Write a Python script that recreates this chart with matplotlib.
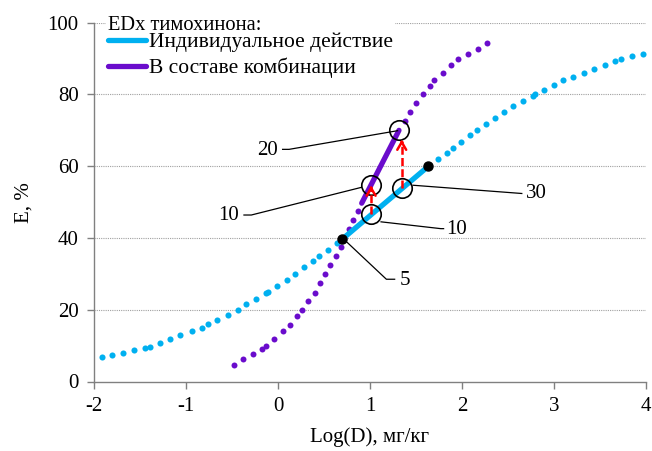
import matplotlib
matplotlib.use("Agg")
import matplotlib.pyplot as plt
from matplotlib.lines import Line2D

plt.rcParams['font.family'] = ['Liberation Serif', 'DejaVu Serif']
plt.rcParams['axes.unicode_minus'] = False

# ---------------- data ----------------
blue_x = [-1.91, -1.80, -1.68, -1.56, -1.45, -1.39, -1.28, -1.17, -1.06, -0.94, -0.83, -0.76,
          -0.66, -0.547, -0.44, -0.35, -0.24, -0.135, -0.105, -0.008, 0.093, 0.188, 0.28,
          0.38, 0.45, 0.545, 0.64,
          1.738, 1.832, 1.897, 1.99, 2.089, 2.16, 2.26, 2.36, 2.455, 2.555, 2.66, 2.77, 2.79,
          2.89, 3.00, 3.10, 3.21, 3.33, 3.44, 3.55, 3.66, 3.73, 3.85, 3.97]
blue_y = [6.7, 7.3, 8.0, 8.7, 9.4, 9.6, 10.8, 11.8, 12.9, 14.0, 15.0, 15.9,
          17.2, 18.6, 19.9, 21.6, 23.0, 24.6, 24.9, 26.6, 28.3, 29.9, 31.8,
          33.6, 35.0, 36.6, 38.5,
          61.9, 63.8, 65.0, 66.8, 68.7, 70.1, 71.8, 73.4, 75.0, 76.7, 78.1, 79.6, 80.0,
          81.2, 82.6, 83.9, 85.0, 86.1, 87.1, 88.2, 89.3, 90.0, 90.6, 91.3]

purple_x = [-0.48, -0.376, -0.27, -0.17, -0.13, -0.04, 0.05, 0.13, 0.205, 0.256, 0.33, 0.40,
            0.455, 0.513, 0.57, 0.625, 0.68, 0.72, 0.77, 0.82, 0.87,
            1.376, 1.438, 1.503, 1.576, 1.65, 1.70, 1.79, 1.88, 1.96, 2.06, 2.17, 2.27]
purple_y = [4.6, 6.4, 7.7, 9.1, 9.8, 11.9, 14.0, 15.8, 18.2, 19.9, 22.4, 24.8,
            27.5, 29.9, 32.5, 35.0, 37.6, 39.9, 42.4, 45.0, 47.6,
            72.6, 75.0, 77.5, 80.0, 82.4, 84.1, 86.1, 88.2, 90.0, 91.4, 92.8, 94.3]

# solid segments (ED range)
blue_seg_x = [0.70, 1.635]
blue_seg_y = [39.7, 60.0]
purple_seg_x = [0.91, 1.315]
purple_seg_y = [49.7, 70.0]

# black points (ED5, ED30 individual)
black_x = [0.70, 1.635]
black_y = [39.7, 60.0]

# open circles
circ_x = [1.318, 1.008, 1.015, 1.352]
circ_y = [70.0, 54.9, 46.7, 54.0]

# red arrows: (x, y_from, y_to)
arrow_x = [1.012, 1.345]
arrow_y0 = [46.7, 54.0]
arrow_y1 = [54.6, 67.4]

# annotation labels
ann_labels = ['20', '10', '10', '30', '5']
ann_text_x = [0.00, -0.42, 1.83, 2.70, 1.32]
ann_text_y = [64.4, 46.3, 42.3, 52.3, 28.2]
ann_ha = ['right', 'right', 'left', 'left', 'left']
ann_paths = [
    [(0.05, 64.7), (0.12, 64.7), (1.30, 69.9)],
    [(-0.37, 46.4), (-0.29, 46.4), (0.905, 54.1)],
    [(1.12, 44.5), (1.77, 42.6), (1.80, 42.6)],
    [(1.467, 54.7), (2.65, 52.4)],
    [(0.726, 39.4), (1.178, 28.5), (1.268, 28.5)],
]

legend_title = 'EDx тимохинона:'
legend_labels = ['Индивидуальное действие', 'В составе комбинации']
x_ticks = [-2, -1, 0, 1, 2, 3, 4]
y_ticks = [0, 20, 40, 60, 80, 100]

BLUE = '#00B0F0'
PURPLE = '#6A0CCC'

# ---------------- figure ----------------
fig = plt.figure(figsize=(6.52, 4.51), dpi=100)
ax = fig.add_axes([94/652, 1-381.5/451, (646-94)/652, (381.5-22.7)/451])

ax.set_xlim(-2, 4)
ax.set_ylim(0, 100)

for yv in y_ticks[1:]:
    ax.axhline(yv, color='#a0a0a0', lw=0.8, ls=(0, (1, 1)), zorder=0)

ax.plot(blue_x, blue_y, 'o', color=BLUE, ms=4.4, mec='none', zorder=2)
ax.plot(purple_x, purple_y, 'o', color=PURPLE, ms=4.3, mec='none', zorder=2)

ax.plot(blue_seg_x, blue_seg_y, color=BLUE, lw=3.8, solid_capstyle='round', zorder=3)
ax.plot(purple_seg_x, purple_seg_y, color=PURPLE, lw=3.8, solid_capstyle='round', zorder=3)

ax.plot(black_x, black_y, 'o', color='black', ms=6.5, zorder=4)

ax.plot(circ_x, circ_y, 'o', mfc='none', mec='black', ms=14, mew=1.2, zorder=5)

for x, y0, y1 in zip(arrow_x, arrow_y0, arrow_y1):
    ax.plot([x, x], [y0, y1 - 0.3], color='red', lw=1.8, ls=(0, (3.2, 1.3)), zorder=6)
    ax.annotate('', xy=(x, y1), xytext=(x, y1 - 1.0),
                arrowprops=dict(arrowstyle='->,head_width=0.32,head_length=0.55',
                                color='red', lw=1.8, shrinkA=0, shrinkB=0), zorder=6)

for lab, tx, ty, ha, path in zip(ann_labels, ann_text_x, ann_text_y, ann_ha, ann_paths):
    px = [p[0] for p in path]
    py = [p[1] for p in path]
    ax.plot(px, py, color='black', lw=0.9, zorder=4)
    ax.text(tx, ty, lab, ha=ha, va='center', fontsize=15)

# axes styling
for s in ['top', 'right']:
    ax.spines[s].set_visible(False)
for s in ['left', 'bottom']:
    ax.spines[s].set_color('#808080')
    ax.spines[s].set_linewidth(1.0)
ax.set_xticks(x_ticks)
ax.set_yticks(y_ticks)
ax.tick_params(axis='both', direction='out', length=5, width=1.0, color='#808080',
               labelsize=15, pad=6)
ax.set_xlabel('Log(D), мг/кг', fontsize=15, labelpad=8)
ax.set_ylabel('E, %', fontsize=15, labelpad=10)

handles = [Line2D([0], [0], color=BLUE, lw=3.8, solid_capstyle='round'),
           Line2D([0], [0], color=PURPLE, lw=3.8, solid_capstyle='round')]
leg = ax.legend(handles, legend_labels, title=legend_title, loc='upper left',
                bbox_to_anchor=(0.022, 1.026), borderaxespad=0, frameon=True,
                fontsize=15.5, title_fontsize=14.8, handlelength=1.75, handletextpad=0.12,
                labelspacing=0.26, borderpad=0.1, alignment='left')
leg._legend_box.sep = -1.6
leg.get_frame().set_edgecolor('none')
leg.get_frame().set_facecolor('white')
leg.get_frame().set_alpha(1)

fig.savefig('out.png', dpi=100)
